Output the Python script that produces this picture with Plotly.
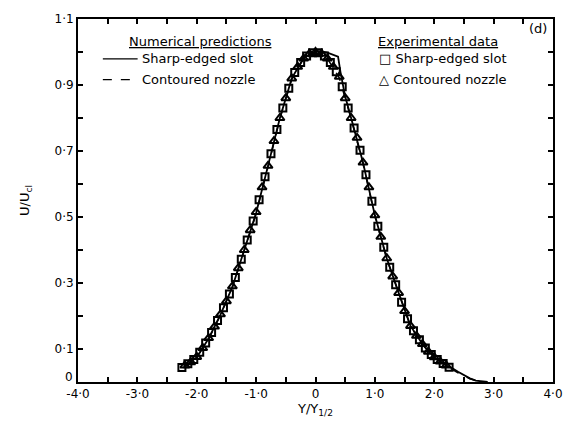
import plotly.graph_objects as go

# Experimental data: sharp-edged slot (squares)
sq_x = [-2.25, -2.15, -2.05, -1.95, -1.85, -1.75, -1.65, -1.55, -1.45, -1.35, -1.25, -1.15,
        -1.05, -0.95, -0.85, -0.75, -0.65, -0.55, -0.45, -0.35, -0.25, -0.15, -0.05,
        0.05, 0.15, 0.25, 0.35, 0.45, 0.55, 0.65, 0.75, 0.85, 0.95, 1.05, 1.15, 1.25,
        1.35, 1.45, 1.55, 1.65, 1.75, 1.85, 1.95, 2.05, 2.15, 2.25]
sq_y = [0.044, 0.055, 0.068, 0.090, 0.118, 0.150, 0.186, 0.225, 0.267, 0.317, 0.372, 0.430,
        0.488, 0.552, 0.622, 0.692, 0.765, 0.830, 0.890, 0.938, 0.968, 0.988, 0.998,
        0.998, 0.988, 0.968, 0.940, 0.895, 0.830, 0.770, 0.702, 0.628, 0.548, 0.472, 0.408, 0.348,
        0.295, 0.242, 0.192, 0.155, 0.128, 0.103, 0.083, 0.068, 0.056, 0.045]

# Experimental data: contoured nozzle (triangles)
tr_x = [-2.2, -2.1, -2.0, -1.9, -1.8, -1.7, -1.6, -1.5, -1.4, -1.3, -1.2, -1.1, -1.0,
        -0.9, -0.8, -0.7, -0.6, -0.5, -0.4, -0.3, -0.2, -0.1, 0.0, 0.1, 0.2, 0.3, 0.4,
        0.5, 0.6, 0.7, 0.8, 0.9, 1.0, 1.1, 1.2, 1.3, 1.4, 1.5, 1.6, 1.7, 1.8, 1.9, 2.0,
        2.1, 2.2]
tr_y = [0.050, 0.060, 0.076, 0.103, 0.133, 0.168, 0.205, 0.245, 0.290, 0.345, 0.400, 0.460, 0.515,
        0.590, 0.655, 0.730, 0.800, 0.860, 0.920, 0.955, 0.980, 0.995, 1.000, 0.995, 0.980, 0.955, 0.925,
        0.860, 0.800, 0.740, 0.665, 0.590, 0.505, 0.440, 0.375, 0.320, 0.270, 0.215, 0.170, 0.140, 0.115,
        0.092, 0.075, 0.062, 0.050]

# Numerical predictions: sharp-edged slot (solid)
sharp_x = [-2.2, -2.0, -1.8, -1.6, -1.4, -1.2, -1.0, -0.8, -0.6, -0.4, -0.2, 0.0, 0.1, 0.2,
           0.3, 0.38, 0.42, 0.5, 0.6, 0.8, 1.0, 1.2, 1.4, 1.6, 1.8, 2.0, 2.2, 2.3, 2.4,
           2.5, 2.6, 2.7, 2.8, 2.9]
sharp_y = [0.048, 0.075, 0.132, 0.204, 0.288, 0.398, 0.512, 0.655, 0.800, 0.920, 0.982, 1.002, 1.002, 0.998,
           0.992, 0.986, 0.940, 0.865, 0.800, 0.665, 0.505, 0.375, 0.270, 0.170, 0.115, 0.075, 0.050, 0.042, 0.031,
           0.020, 0.011, 0.004, 0.001, 0.0]

# Numerical predictions: contoured nozzle (dashed)
cont_x = [-2.2, -2.0, -1.8, -1.6, -1.4, -1.2, -1.0, -0.8, -0.6, -0.4, -0.2, 0.0, 0.2, 0.4,
          0.6, 0.8, 1.0, 1.2, 1.4, 1.6, 1.8, 2.0, 2.2, 2.4, 2.6, 2.8]
cont_y = [0.047, 0.074, 0.130, 0.203, 0.287, 0.396, 0.510, 0.652, 0.798, 0.918, 0.980, 1.000, 0.980, 0.922,
          0.798, 0.662, 0.503, 0.373, 0.268, 0.169, 0.113, 0.073, 0.049, 0.028, 0.010, 0.0]

x_tickvals = [-4.0, -3.0, -2.0, -1.0, 0.0, 1.0, 2.0, 3.0, 4.0]
x_ticktext = ["-4·0", "-3·0", "-2·0", "-1·0", "0", "1·0", "2·0", "3·0", "4·0"]
y_tickvals = [0.1, 0.3, 0.5, 0.7, 0.9, 1.1]
y_ticktext = ["0·1", "0·3", "0·5", "0·7", "0·9", "1·1"]
y_zero_label = "0"

FONT = "DejaVu Sans"
TICK = dict(family=FONT, size=12, color="black")
TXT = dict(family=FONT, size=13, color="black")

fig = go.Figure()
fig.add_trace(go.Scatter(x=sharp_x, y=sharp_y, mode="lines",
                         line=dict(color="black", width=1.8), showlegend=False))
fig.add_trace(go.Scatter(x=cont_x, y=cont_y, mode="lines",
                         line=dict(color="black", width=1.5, dash="dash"), showlegend=False))
fig.add_trace(go.Scatter(x=tr_x, y=tr_y, mode="markers",
                         marker=dict(symbol="triangle-up-open", size=8, color="black",
                                     line=dict(width=2, color="black")), showlegend=False))
fig.add_trace(go.Scatter(x=sq_x, y=sq_y, mode="markers",
                         marker=dict(symbol="square-open", size=7, color="black",
                                     line=dict(width=2, color="black")), showlegend=False))

axis_common = dict(showline=True, linewidth=2, linecolor="black", mirror="ticks",
                   ticks="inside", ticklen=5, tickwidth=1.5, tickcolor="black",
                   showgrid=False, zeroline=False, tickfont=TICK)

fig.update_xaxes(range=[-4, 4], tickmode="array", tickvals=x_tickvals, ticktext=x_ticktext,
                 minor=dict(dtick=0.5, tick0=0, ticks="inside", ticklen=5, tickwidth=1.5,
                            tickcolor="black", showgrid=False),
                 title=dict(text="Y/Y<sub>1/2</sub>", font=TXT, standoff=2),
                 **axis_common)
fig.update_yaxes(range=[0, 1.1], tickmode="array", tickvals=y_tickvals, ticktext=y_ticktext,
                 minor=dict(dtick=0.1, tick0=0, ticks="inside", ticklen=5, tickwidth=1.5,
                            tickcolor="black", showgrid=False),
                 title=dict(text="U/U<sub>cl</sub>", font=TXT, standoff=22),
                 **axis_common)

annos = [
    dict(x=201, y=40, text="<u>Numerical predictions</u>"),
    dict(x=140, y=57, text="Sharp-edged slot", xanchor="left"),
    dict(x=140, y=78, text="Contoured nozzle", xanchor="left"),
    dict(x=440, y=40, text="<u>Experimental data</u>"),
    dict(x=379, y=57, text="□ Sharp-edged slot", xanchor="left"),
    dict(x=379, y=78, text="△ Contoured nozzle", xanchor="left"),
    dict(x=541, y=27, text="(d)"),
]
W, H = 575, 426
L, R, T, B = 78, 19, 17, 44
pw, ph = W - L - R, H - T - B
for a in annos:
    fig.add_annotation(x=(a["x"] - L) / pw, y=1 - (a["y"] - T) / ph, xref="paper", yref="paper",
                       text=a["text"], showarrow=False, font=TXT,
                       xanchor=a.get("xanchor", "center"), yanchor="middle")

# y-axis "0" label, placed just above the x-axis labels
fig.add_annotation(x=0, y=0, xref="paper", yref="y", text=y_zero_label, showarrow=False,
                   font=TICK, xanchor="right", yanchor="bottom", xshift=-3, yshift=-4)

def seg(x0, x1, y, dash):
    fig.add_shape(type="line", xref="paper", yref="paper",
                  x0=(x0 - L) / pw, x1=(x1 - L) / pw, y0=1 - (y - T) / ph, y1=1 - (y - T) / ph,
                  line=dict(color="black", width=1.3, dash=dash))

seg(103, 138, 57, "solid")
seg(103, 138, 78, "dash")

fig.update_layout(width=W, height=H, margin=dict(l=L, r=R, t=T, b=B),
                  paper_bgcolor="white", plot_bgcolor="white",
                  font=dict(family=FONT, color="black"))

fig.write_html("out.html")
